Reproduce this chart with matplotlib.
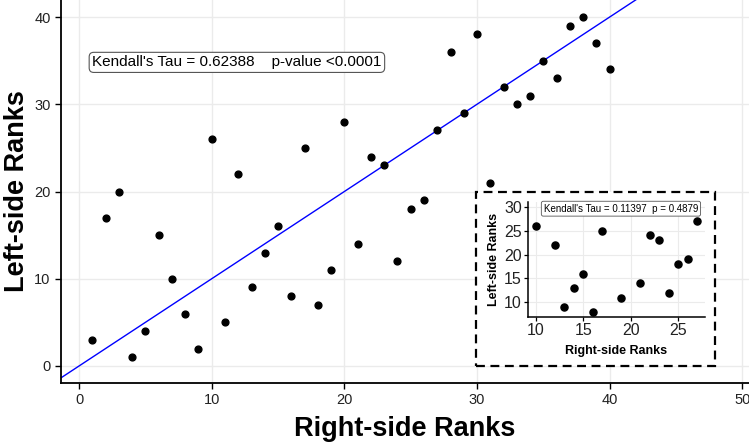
import matplotlib.pyplot as plt
from matplotlib.patches import Rectangle

plt.rcParams['font.family'] = ['Liberation Sans', 'DejaVu Sans']

# Main data: right-side vs left-side ranks
right_rank = list(range(1, 41))
left_rank = [3, 17, 20, 1, 4, 15, 10, 6, 2, 26,
             5, 22, 9, 13, 16, 8, 25, 7, 11, 28,
             14, 24, 23, 12, 18, 19, 27, 36, 29, 38,
             21, 32, 30, 31, 35, 33, 39, 40, 37, 34]

# Inset subset
inset_right = [10, 12, 13, 14, 15, 16, 17, 19, 21, 22, 23, 24, 25, 26, 27]
inset_left = [26, 22, 9, 13, 16, 8, 25, 11, 14, 24, 23, 12, 18, 19, 27]

main_label = "Kendall's Tau = 0.62388    p-value <0.0001"
inset_text = "Kendall's Tau = 0.11397  p = 0.4879"

grid_col = '#ebebeb'

fig = plt.figure(figsize=(7.49, 4.44), dpi=100)
ax = fig.add_axes([61 / 749, 61 / 444, 688 / 749, 383 / 444])

# identity line
ax.plot([-5, 60], [-5, 60], color='blue', lw=1.0, zorder=2)
ax.scatter(right_rank, left_rank, s=24, color='black', zorder=3)

ax.set_xlim(-1.36, 50.5)
ax.set_ylim(-1.95, 41.95)
ax.set_xticks([0, 10, 20, 30, 40, 50])
ax.set_yticks([0, 10, 20, 30, 40])
ax.grid(True, color=grid_col, lw=1.0, zorder=0)
ax.set_axisbelow(True)
for s in ['top', 'right']:
    ax.spines[s].set_visible(False)
for s in ['left', 'bottom']:
    ax.spines[s].set_linewidth(1.3)
ax.tick_params(direction='out', length=4, width=1.0, labelsize=10.5,
               colors='black', labelcolor='#222222')
ax.set_xlabel("Right-side Ranks", fontsize=19.5, fontweight='bold', labelpad=6)
ax.set_ylabel("Left-side Ranks", fontsize=19.5, fontweight='bold', labelpad=3)

ax.text(11.9, 34.8, main_label, fontsize=11, ha='center', va='center', zorder=4,
        bbox=dict(boxstyle='round,pad=0.2,rounding_size=0.3', fc='white',
                  ec='#555555', lw=0.8))

# dashed frame around inset
frame = Rectangle((476 / 749, 1 - 366 / 444), (715 - 476) / 749, (366 - 192) / 444,
                  transform=fig.transFigure, fc='white', ec='black', lw=1.6,
                  ls=(0, (4, 2.5)), zorder=5)
fig.patches.append(frame)

axi = fig.add_axes([528 / 749, 1 - 317 / 444, (705 - 528) / 749, (317 - 202) / 444])
axi.set_zorder(6)
axi.scatter(inset_right, inset_left, s=26, color='black', zorder=3)
axi.set_xlim(9.16, 27.84)
axi.set_ylim(6.93, 31.0)
axi.set_xticks([10, 15, 20, 25])
axi.set_yticks([10, 15, 20, 25, 30])
axi.grid(True, color=grid_col, lw=0.8)
axi.set_axisbelow(True)
for s in ['top', 'right']:
    axi.spines[s].set_visible(False)
for s in ['left', 'bottom']:
    axi.spines[s].set_linewidth(1.1)
axi.tick_params(direction='out', length=3, width=0.9, labelsize=11.5,
                colors='black', labelcolor='#222222', pad=1.5)
axi.set_xlabel("Right-side Ranks", fontsize=9, fontweight='bold', labelpad=5)
axi.set_ylabel("Left-side Ranks", fontsize=9, fontweight='bold', labelpad=3)
axi.text(18.97, 29.6, inset_text, fontsize=7, ha='center', va='center',
         bbox=dict(boxstyle='round,pad=0.25,rounding_size=0.2', fc='white',
                   ec='#555555', lw=0.6))

fig.savefig('out.png', dpi=100)
